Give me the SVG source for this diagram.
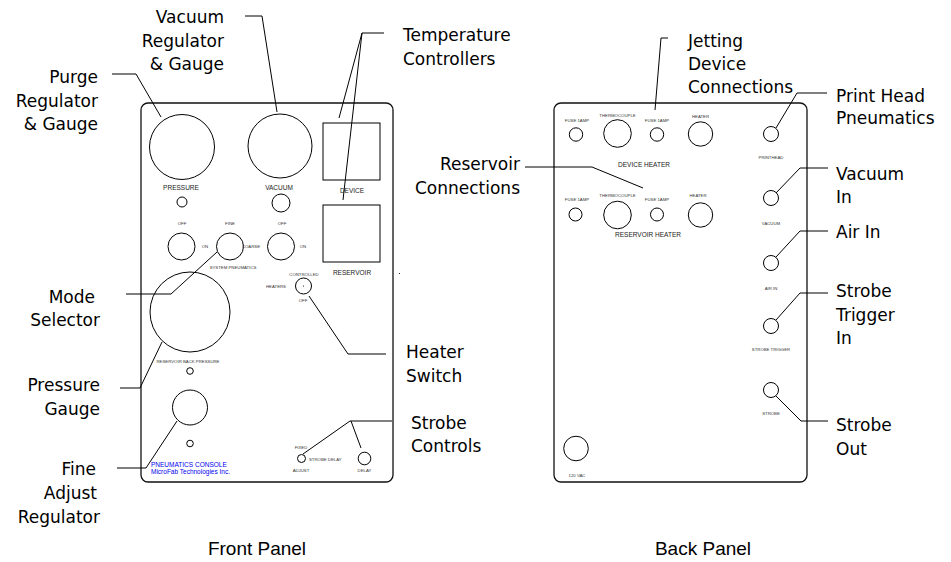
<svg xmlns="http://www.w3.org/2000/svg" width="951" height="562" viewBox="0 0 951 562">
<style>
.lbl{font-family:"DejaVu Sans","Liberation Sans",sans-serif;font-size:17px;fill:#000}
.r{text-anchor:end}
.cap{font-family:"Liberation Sans",Arial,sans-serif;font-size:19px;fill:#000;text-anchor:middle}
.t{font-family:"Liberation Sans",Arial,sans-serif;font-size:4.3px;fill:#333;text-anchor:middle}
.m{font-family:"Liberation Sans",Arial,sans-serif;font-size:6.5px;fill:#222;text-anchor:middle}
.blue{font-family:"Liberation Sans",Arial,sans-serif;font-size:6.5px;fill:#0000ee}
.panel{fill:none;stroke:#111;stroke-width:1.3}
.c{fill:none;stroke:#000;stroke-width:1}
.ln{fill:none;stroke:#000;stroke-width:1}
</style>
<rect width="951" height="562" fill="#fff"/>

<g id="front-panel">
<rect class="panel" x="141" y="103" width="252" height="379" rx="7"/>
<circle class="c" cx="182" cy="147" r="32.5"/>
<circle class="c" cx="280" cy="146" r="32"/>
<text class="m" x="181" y="190">PRESSURE</text>
<text class="m" x="279" y="190">VACUUM</text>
<circle class="c" cx="182" cy="202" r="5"/>
<circle class="c" cx="281" cy="203" r="9"/>
<text class="t" x="182" y="224.5">OFF</text>
<text class="t" x="230" y="224.5">FINE</text>
<text class="t" x="282" y="224.5">OFF</text>
<circle class="c" cx="181.5" cy="246.5" r="13.5"/>
<circle class="c" cx="230" cy="246.5" r="13.5"/>
<circle class="c" cx="281" cy="246.5" r="13.5"/>
<text class="t" x="205" y="248">ON</text>
<text class="t" x="251" y="248">COARSE</text>
<text class="t" x="303" y="248">ON</text>
<text class="t" x="233" y="269">SYSTEM PNEUMATICS</text>
<rect class="c" x="323" y="123" width="57" height="57"/>
<text class="m" x="352" y="192.5">DEVICE</text>
<rect class="c" x="323" y="205" width="57" height="57"/>
<text class="m" x="352" y="275">RESERVOIR</text>
<text class="t" x="304" y="275.5">CONTROLLED</text>
<text class="t" x="276" y="288">HEATERS</text>
<circle class="c" cx="303.5" cy="286" r="8"/>
<circle cx="303.5" cy="286" r="0.6" fill="#000"/>
<text class="t" x="303" y="301.5">OFF</text>
<circle class="c" cx="190" cy="312" r="40"/>
<text class="t" x="188" y="363">RESERVOIR BACK PRESSURE</text>
<circle class="c" cx="190" cy="371" r="3.3"/>
<circle class="c" cx="190" cy="407.5" r="17.5"/>
<circle class="c" cx="190" cy="443.5" r="3.3"/>
<text class="blue" x="151" y="466.5">PNEUMATICS CONSOLE</text>
<text class="blue" x="151" y="473.5">MicroFab Technologies Inc.</text>
<text class="t" x="301" y="448.5">FIXED</text>
<circle class="c" cx="301.5" cy="458.5" r="4"/>
<text class="t" x="309" y="460.5" style="text-anchor:start">STROBE DELAY</text>
<text class="t" x="301" y="471.5">ADJUST</text>
<circle class="c" cx="364.5" cy="458.5" r="6.3"/>
<text class="t" x="364.5" y="471.5">DELAY</text>
<circle cx="399.5" cy="273.5" r="0.6" fill="#000"/>
</g>

<g id="back-panel">
<rect class="panel" x="554" y="103" width="253" height="379" rx="7"/>
<text class="t" x="577" y="122">FUSE 1AMP</text>
<circle class="c" cx="576" cy="134.5" r="6.7"/>
<text class="t" x="617.5" y="117">THERMOCOUPLE</text>
<circle class="c" cx="617.5" cy="133.5" r="13.8"/>
<text class="t" x="657" y="122">FUSE 1AMP</text>
<circle class="c" cx="657" cy="134.5" r="6.7"/>
<text class="t" x="700.5" y="118">HEATER</text>
<circle class="c" cx="700.5" cy="134" r="12.2"/>
<text class="m" x="644" y="167">DEVICE HEATER</text>
<text class="t" x="577" y="200.5">FUSE 1AMP</text>
<circle class="c" cx="575.5" cy="214.5" r="6.5"/>
<text class="t" x="617.5" y="197">THERMOCOUPLE</text>
<circle class="c" cx="617.5" cy="215" r="13.8"/>
<text class="t" x="657" y="200.5">FUSE 1AMP</text>
<circle class="c" cx="657" cy="214.5" r="6.5"/>
<text class="t" x="698" y="197">HEATER</text>
<circle class="c" cx="700.5" cy="215" r="12.2"/>
<text class="m" x="648" y="237">RESERVOIR HEATER</text>
<circle class="c" cx="771" cy="134" r="7.5"/>
<text class="t" x="771" y="159">PRINTHEAD</text>
<circle class="c" cx="771" cy="198" r="7.5"/>
<text class="t" x="771" y="225">VACUUM</text>
<circle class="c" cx="771" cy="263" r="7.5"/>
<text class="t" x="771" y="290">AIR IN</text>
<circle class="c" cx="771" cy="326" r="7.5"/>
<text class="t" x="771" y="351">STROBE TRIGGER</text>
<circle class="c" cx="771" cy="390" r="7.5"/>
<text class="t" x="771" y="415">STROBE</text>
<circle class="c" cx="576" cy="448.5" r="12.3"/>
<text class="t" x="577" y="476.5">120 VAC</text>
</g>

<g id="connectors">
<polyline class="ln" points="245,16 262,16 277,112"/>
<polyline class="ln" points="112,74 136,74 161,117"/>
<polyline class="ln" points="384,33 362,33 339,118"/>
<line class="ln" x1="362" y1="33" x2="343" y2="200"/>
<polyline class="ln" points="126,294 171,294 217,252"/>
<polyline class="ln" points="120,388 140,388 162,342"/>
<polyline class="ln" points="117,468 146,468 177,421"/>
<polyline class="ln" points="309,296 348,354 386,354"/>
<polyline class="ln" points="392,421 350,421 303,454"/>
<line class="ln" x1="351" y1="421" x2="361" y2="448"/>
<polyline class="ln" points="668,38 661,38 655,110"/>
<polyline class="ln" points="525,167 592,167 643,188"/>
<polyline class="ln" points="827,93 797,93 776,128"/>
<polyline class="ln" points="828,168 800,168 776,193"/>
<polyline class="ln" points="828,231 800,231 776,257"/>
<polyline class="ln" points="828,293 800,293 776,320"/>
<polyline class="ln" points="776,396 801,421 828,421"/>
</g>

<g id="labels">
<text class="lbl r" x="224"><tspan x="224" y="22.5">Vacuum</tspan><tspan x="224" y="46.5">Regulator</tspan><tspan x="224" y="70">&amp; Gauge</tspan></text>
<text class="lbl r"><tspan x="98" y="83">Purge</tspan><tspan x="98" y="106.5">Regulator</tspan><tspan x="98" y="130">&amp; Gauge</tspan></text>
<text class="lbl"><tspan x="403" y="41">Temperature</tspan><tspan x="403" y="65">Controllers</tspan></text>
<text class="lbl r"><tspan x="95" y="303">Mode</tspan><tspan x="100" y="326">Selector</tspan></text>
<text class="lbl r"><tspan x="100" y="391">Pressure</tspan><tspan x="100" y="415">Gauge</tspan></text>
<text class="lbl r"><tspan x="96" y="475">Fine</tspan><tspan x="97" y="499">Adjust</tspan><tspan x="100" y="523">Regulator</tspan></text>
<text class="lbl"><tspan x="406" y="358">Heater</tspan><tspan x="406" y="382">Switch</tspan></text>
<text class="lbl"><tspan x="411" y="429">Strobe</tspan><tspan x="411" y="452">Controls</tspan></text>
<text class="lbl r"><tspan x="520" y="170">Reservoir</tspan><tspan x="520" y="194">Connections</tspan></text>
<text class="lbl"><tspan x="688" y="47">Jetting</tspan><tspan x="688" y="70">Device</tspan><tspan x="688" y="93">Connections</tspan></text>
<text class="lbl"><tspan x="836" y="102">Print Head</tspan><tspan x="836" y="124">Pneumatics</tspan></text>
<text class="lbl"><tspan x="836" y="180">Vacuum</tspan><tspan x="836" y="203">In</tspan></text>
<text class="lbl"><tspan x="836" y="238">Air In</tspan></text>
<text class="lbl"><tspan x="836" y="297">Strobe</tspan><tspan x="836" y="321">Trigger</tspan><tspan x="836" y="344">In</tspan></text>
<text class="lbl"><tspan x="836" y="431">Strobe</tspan><tspan x="836" y="455">Out</tspan></text>
<text class="cap" x="257" y="555">Front Panel</text>
<text class="cap" x="703" y="555">Back Panel</text>
</g>
</svg>
